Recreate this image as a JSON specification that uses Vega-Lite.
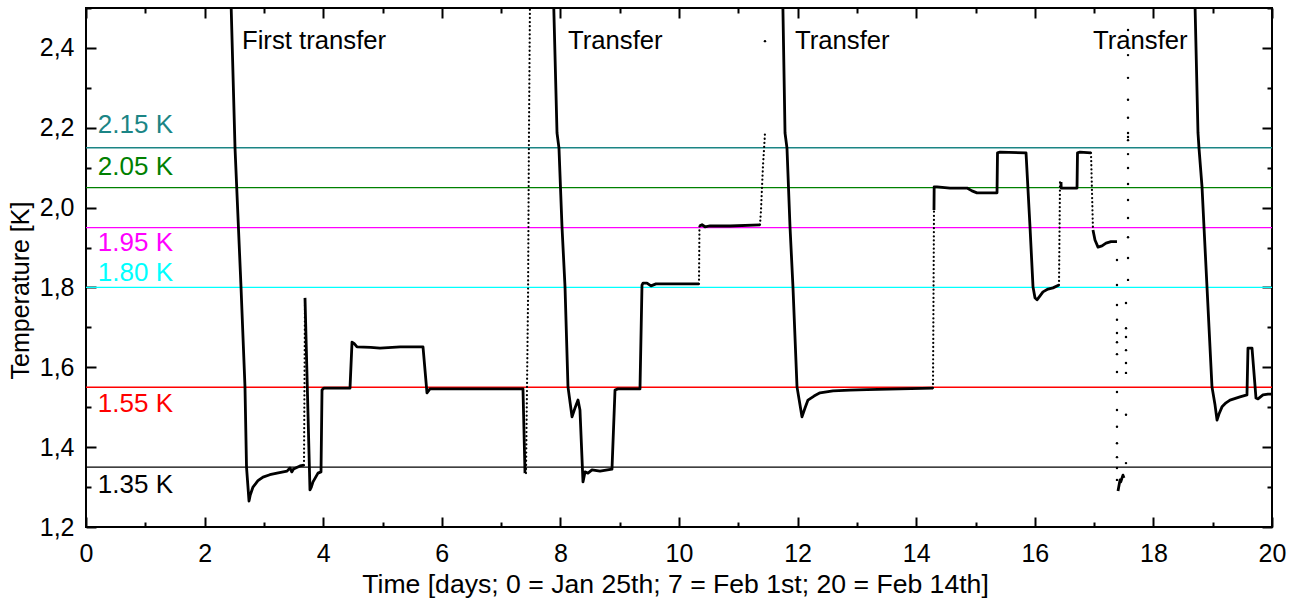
{
  "$schema": "https://vega.github.io/schema/vega-lite/v6.json",
  "width": 1186,
  "height": 519,
  "autosize": {"type": "none"},
  "padding": {"left": 86, "top": 8, "right": 32, "bottom": 74},
  "background": "white",
  "config": {
    "view": {"stroke": "black", "strokeWidth": 2},
    "axis": {"domain": false, "tickColor": "black", "tickWidth": 2, "labelColor": "black", "titleColor": "black", "labelFont": "Liberation Sans", "titleFont": "Liberation Sans", "titleFontWeight": "normal", "grid": false, "labelFlush": false, "labelOverlap": false},
    "text": {"font": "Liberation Sans"}
  },
  "datasets": {
    "refs": [
      {"name": "2.15 K", "v": 2.15, "ty": 2.207},
      {"name": "2.05 K", "v": 2.05, "ty": 2.102},
      {"name": "1.95 K", "v": 1.95, "ty": 1.911},
      {"name": "1.80 K", "v": 1.80, "ty": 1.836},
      {"name": "1.55 K", "v": 1.55, "ty": 1.508},
      {"name": "1.35 K", "v": 1.35, "ty": 1.305}
    ],
    "notes": [
      {"note": "First transfer", "t": 2.63, "T": 2.417},
      {"note": "Transfer", "t": 8.128, "T": 2.417},
      {"note": "Transfer", "t": 11.956, "T": 2.417},
      {"note": "Transfer", "t": 16.981, "T": 2.417}
    ],
    "solid": [
      {"s": "A", "t": 2.43, "T": 2.6}, {"s": "A", "t": 2.513, "T": 2.149}, {"s": "A", "t": 2.614, "T": 1.801}, {"s": "A", "t": 2.681, "T": 1.551}, {"s": "A", "t": 2.707, "T": 1.35}, {"s": "A", "t": 2.749, "T": 1.265}, {"s": "A", "t": 2.77, "T": 1.28}, {"s": "A", "t": 2.816, "T": 1.3}, {"s": "A", "t": 2.9, "T": 1.316}, {"s": "A", "t": 2.985, "T": 1.325}, {"s": "A", "t": 3.1, "T": 1.331}, {"s": "A", "t": 3.221, "T": 1.335}, {"s": "A", "t": 3.39, "T": 1.34}, {"s": "A", "t": 3.44, "T": 1.348}, {"s": "A", "t": 3.47, "T": 1.338}, {"s": "A", "t": 3.5, "T": 1.345}, {"s": "A", "t": 3.609, "T": 1.353}, {"s": "A", "t": 3.676, "T": 1.355},
      {"s": "B", "t": 3.693, "T": 1.774}, {"s": "B", "t": 3.777, "T": 1.293}, {"s": "B", "t": 3.8, "T": 1.3}, {"s": "B", "t": 3.828, "T": 1.313}, {"s": "B", "t": 3.912, "T": 1.335}, {"s": "B", "t": 3.963, "T": 1.338}, {"s": "B", "t": 3.98, "T": 1.543}, {"s": "B", "t": 4.013, "T": 1.548}, {"s": "B", "t": 4.452, "T": 1.548}, {"s": "B", "t": 4.486, "T": 1.663}, {"s": "B", "t": 4.52, "T": 1.66}, {"s": "B", "t": 4.57, "T": 1.651}, {"s": "B", "t": 4.8, "T": 1.65}, {"s": "B", "t": 4.958, "T": 1.648}, {"s": "B", "t": 5.3, "T": 1.651}, {"s": "B", "t": 5.683, "T": 1.651}, {"s": "B", "t": 5.75, "T": 1.536}, {"s": "B", "t": 5.8, "T": 1.546}, {"s": "B", "t": 6.644, "T": 1.546}, {"s": "B", "t": 7.369, "T": 1.546}, {"s": "B", "t": 7.403, "T": 1.335},
      {"s": "D", "t": 7.885, "T": 2.52}, {"s": "D", "t": 7.943, "T": 2.187}, {"s": "D", "t": 7.976, "T": 2.149}, {"s": "D", "t": 8.027, "T": 1.952}, {"s": "D", "t": 8.078, "T": 1.801}, {"s": "D", "t": 8.128, "T": 1.551}, {"s": "D", "t": 8.196, "T": 1.476}, {"s": "D", "t": 8.246, "T": 1.498}, {"s": "D", "t": 8.297, "T": 1.518}, {"s": "D", "t": 8.33, "T": 1.493}, {"s": "D", "t": 8.381, "T": 1.313}, {"s": "D", "t": 8.415, "T": 1.338}, {"s": "D", "t": 8.465, "T": 1.335}, {"s": "D", "t": 8.533, "T": 1.343}, {"s": "D", "t": 8.668, "T": 1.34}, {"s": "D", "t": 8.87, "T": 1.345}, {"s": "D", "t": 8.921, "T": 1.543}, {"s": "D", "t": 8.971, "T": 1.546}, {"s": "D", "t": 9.342, "T": 1.546}, {"s": "D", "t": 9.376, "T": 1.806}, {"s": "D", "t": 9.393, "T": 1.811}, {"s": "D", "t": 9.46, "T": 1.811}, {"s": "D", "t": 9.528, "T": 1.804}, {"s": "D", "t": 9.612, "T": 1.809}, {"s": "D", "t": 10.337, "T": 1.809},
      {"s": "F", "t": 10.345, "T": 1.954}, {"s": "F", "t": 10.388, "T": 1.957}, {"s": "F", "t": 10.438, "T": 1.952}, {"s": "F", "t": 10.523, "T": 1.954}, {"s": "F", "t": 10.86, "T": 1.954}, {"s": "F", "t": 11.366, "T": 1.957},
      {"s": "H", "t": 11.75, "T": 2.52}, {"s": "H", "t": 11.788, "T": 2.187}, {"s": "H", "t": 11.821, "T": 2.149}, {"s": "H", "t": 11.872, "T": 1.952}, {"s": "H", "t": 11.922, "T": 1.801}, {"s": "H", "t": 11.99, "T": 1.551}, {"s": "H", "t": 12.074, "T": 1.476}, {"s": "H", "t": 12.125, "T": 1.498}, {"s": "H", "t": 12.175, "T": 1.518}, {"s": "H", "t": 12.277, "T": 1.528}, {"s": "H", "t": 12.378, "T": 1.536}, {"s": "H", "t": 12.597, "T": 1.541}, {"s": "H", "t": 12.884, "T": 1.543}, {"s": "H", "t": 13.171, "T": 1.544}, {"s": "H", "t": 13.727, "T": 1.546}, {"s": "H", "t": 14.283, "T": 1.548},
      {"s": "J", "t": 14.3, "T": 1.994}, {"s": "J", "t": 14.303, "T": 2.052}, {"s": "J", "t": 14.351, "T": 2.052}, {"s": "J", "t": 14.57, "T": 2.049}, {"s": "J", "t": 14.857, "T": 2.049}, {"s": "J", "t": 14.941, "T": 2.042}, {"s": "J", "t": 15.025, "T": 2.037}, {"s": "J", "t": 15.363, "T": 2.037}, {"s": "J", "t": 15.371, "T": 2.137}, {"s": "J", "t": 15.413, "T": 2.139}, {"s": "J", "t": 15.852, "T": 2.137}, {"s": "J", "t": 15.919, "T": 1.952}, {"s": "J", "t": 15.97, "T": 1.801}, {"s": "J", "t": 16.003, "T": 1.774}, {"s": "J", "t": 16.037, "T": 1.769}, {"s": "J", "t": 16.088, "T": 1.779}, {"s": "J", "t": 16.138, "T": 1.789}, {"s": "J", "t": 16.223, "T": 1.796}, {"s": "J", "t": 16.307, "T": 1.799}, {"s": "J", "t": 16.408, "T": 1.806},
      {"s": "L", "t": 16.442, "T": 2.064}, {"s": "L", "t": 16.445, "T": 2.049}, {"s": "L", "t": 16.509, "T": 2.049}, {"s": "L", "t": 16.712, "T": 2.049}, {"s": "L", "t": 16.72, "T": 2.137}, {"s": "L", "t": 16.762, "T": 2.139}, {"s": "L", "t": 16.948, "T": 2.137},
      {"s": "N", "t": 16.981, "T": 1.944}, {"s": "N", "t": 17.015, "T": 1.919}, {"s": "N", "t": 17.066, "T": 1.901}, {"s": "N", "t": 17.133, "T": 1.904}, {"s": "N", "t": 17.201, "T": 1.911}, {"s": "N", "t": 17.285, "T": 1.915}, {"s": "N", "t": 17.386, "T": 1.915},
      {"s": "Q", "t": 17.403, "T": 1.29}, {"s": "Q", "t": 17.437, "T": 1.318}, {"s": "Q", "t": 17.45, "T": 1.313}, {"s": "Q", "t": 17.487, "T": 1.33}, {"s": "Q", "t": 17.504, "T": 1.323},
      {"s": "R", "t": 18.7, "T": 2.52}, {"s": "R", "t": 18.752, "T": 2.187}, {"s": "R", "t": 18.769, "T": 2.149}, {"s": "R", "t": 18.82, "T": 2.052}, {"s": "R", "t": 18.853, "T": 1.952}, {"s": "R", "t": 18.904, "T": 1.801}, {"s": "R", "t": 18.988, "T": 1.551}, {"s": "R", "t": 19.039, "T": 1.506}, {"s": "R", "t": 19.073, "T": 1.468}, {"s": "R", "t": 19.106, "T": 1.483}, {"s": "R", "t": 19.157, "T": 1.501}, {"s": "R", "t": 19.224, "T": 1.511}, {"s": "R", "t": 19.292, "T": 1.518}, {"s": "R", "t": 19.46, "T": 1.526}, {"s": "R", "t": 19.578, "T": 1.531}, {"s": "R", "t": 19.595, "T": 1.648}, {"s": "R", "t": 19.663, "T": 1.648}, {"s": "R", "t": 19.73, "T": 1.523}, {"s": "R", "t": 19.764, "T": 1.521}, {"s": "R", "t": 19.848, "T": 1.531}, {"s": "R", "t": 19.933, "T": 1.533}, {"s": "R", "t": 20.0, "T": 1.533}
    ],
    "dotted": [
      {"s": "a", "t": 3.676, "T": 1.355}, {"s": "a", "t": 3.693, "T": 1.774},
      {"s": "C", "t": 7.42, "T": 1.335}, {"s": "C", "t": 7.454, "T": 1.769}, {"s": "C", "t": 7.47, "T": 2.187}, {"s": "C", "t": 7.487, "T": 2.52},
      {"s": "E", "t": 10.337, "T": 1.809}, {"s": "E", "t": 10.345, "T": 1.954},
      {"s": "G", "t": 11.366, "T": 1.957}, {"s": "G", "t": 11.383, "T": 1.994}, {"s": "G", "t": 11.4, "T": 2.052}, {"s": "G", "t": 11.417, "T": 2.107}, {"s": "G", "t": 11.433, "T": 2.144}, {"s": "G", "t": 11.45, "T": 2.187},
      {"s": "I", "t": 14.283, "T": 1.548}, {"s": "I", "t": 14.3, "T": 1.994},
      {"s": "K", "t": 16.408, "T": 1.806}, {"s": "K", "t": 16.425, "T": 2.064},
      {"s": "M", "t": 16.948, "T": 2.137}, {"s": "M", "t": 16.981, "T": 1.944}
    ],
    "dots": [
      {"t": 11.45, "T": 2.417},
      {"t": 17.386, "T": 1.869}, {"t": 17.386, "T": 1.806}, {"t": 17.386, "T": 1.756}, {"t": 17.386, "T": 1.719}, {"t": 17.386, "T": 1.686}, {"t": 17.386, "T": 1.663}, {"t": 17.386, "T": 1.633}, {"t": 17.386, "T": 1.588}, {"t": 17.386, "T": 1.538}, {"t": 17.386, "T": 1.493}, {"t": 17.386, "T": 1.451}, {"t": 17.386, "T": 1.41}, {"t": 17.386, "T": 1.375}, {"t": 17.386, "T": 1.348}, {"t": 17.386, "T": 1.318},
      {"t": 17.572, "T": 2.445}, {"t": 17.572, "T": 2.382}, {"t": 17.572, "T": 2.325}, {"t": 17.572, "T": 2.27}, {"t": 17.572, "T": 2.225}, {"t": 17.572, "T": 2.187}, {"t": 17.572, "T": 2.177}, {"t": 17.572, "T": 2.169}, {"t": 17.572, "T": 2.134}, {"t": 17.572, "T": 2.099}, {"t": 17.572, "T": 2.059}, {"t": 17.572, "T": 2.019}, {"t": 17.572, "T": 1.974}, {"t": 17.572, "T": 1.926}, {"t": 17.572, "T": 1.874}, {"t": 17.572, "T": 1.819},
      {"t": 17.538, "T": 1.761}, {"t": 17.538, "T": 1.698}, {"t": 17.538, "T": 1.676}, {"t": 17.538, "T": 1.643}, {"t": 17.538, "T": 1.611}, {"t": 17.538, "T": 1.586}, {"t": 17.538, "T": 1.481}, {"t": 17.538, "T": 1.36}
    ]
  },
  "resolve": {"axis": {"x": "independent", "y": "independent"}},
  "layer": [
    {
      "data": {"name": "refs"},
      "mark": {"type": "rule", "strokeWidth": 1.3},
      "encoding": {
        "y": {"field": "v", "type": "quantitative", "scale": {"domain": [1.2, 2.5], "nice": false, "zero": false}, "axis": null},
        "color": {"field": "name", "type": "nominal", "scale": {"domain": ["2.15 K", "2.05 K", "1.95 K", "1.80 K", "1.55 K", "1.35 K"], "range": ["#1b8585", "#008000", "#ff00ff", "#00ffff", "#ff0000", "#000000"]}, "legend": null}
      }
    },
    {
      "data": {"name": "refs"},
      "mark": {"type": "text", "align": "left", "baseline": "middle", "fontSize": 26},
      "encoding": {
        "x": {"datum": 0.2, "type": "quantitative", "scale": {"domain": [0, 20], "nice": false, "zero": false}, "axis": null},
        "y": {"field": "ty", "type": "quantitative", "axis": null},
        "text": {"field": "name"},
        "color": {"field": "name", "type": "nominal", "legend": null}
      }
    },
    {
      "data": {"name": "solid"},
      "mark": {"type": "line", "color": "black", "strokeWidth": 2.8, "strokeJoin": "round", "clip": true},
      "encoding": {
        "x": {"field": "t", "type": "quantitative", "scale": {"domain": [0, 20], "nice": false, "zero": false},
          "axis": {"orient": "bottom", "values": [0,2,4,6,8,10,12,14,16,18,20],
            "offset": -10, "tickSize": 10,
            "labelFontSize": 25, "labelPadding": 14,
            "title": "Time [days; 0 = Jan 25th; 7 = Feb 1st; 20 = Feb 14th]", "titleFontSize": 26.6, "titleX": 589, "titleY": 54, "titleBaseline": "top"}},
        "y": {"field": "T", "type": "quantitative", "scale": {"domain": [1.2, 2.5], "nice": false, "zero": false},
          "axis": {"orient": "left", "values": [1.2,1.4,1.6,1.8,2.0,2.2,2.4],
            "labelExpr": "replace(format(datum.value, '.1f'), '.', ',')",
            "offset": -10, "tickSize": 10,
            "labelFontSize": 25, "labelPadding": 12,
            "title": "Temperature [K]", "titleFontSize": 25, "titleX": -76, "titleY": 282, "titleBaseline": "middle", "titleAngle": -90}},
        "detail": {"field": "s", "type": "nominal"}
      }
    },
    {
      "data": {"name": "dotted"},
      "mark": {"type": "line", "color": "black", "strokeWidth": 2.2, "strokeDash": [0.1, 4], "strokeCap": "round", "clip": true},
      "encoding": {
        "x": {"field": "t", "type": "quantitative",
          "axis": {"orient": "top", "values": [0,2,4,6,8,10,12,14,16,18,20], "labels": false, "title": null, "offset": -10, "tickSize": 10}},
        "y": {"field": "T", "type": "quantitative",
          "axis": {"orient": "right", "values": [1.2,1.4,1.6,1.8,2.0,2.2,2.4], "labels": false, "title": null, "offset": -10, "tickSize": 10}},
        "detail": {"field": "s", "type": "nominal"}
      }
    },
    {
      "data": {"name": "dots"},
      "mark": {"type": "circle", "color": "black", "size": 6, "opacity": 1, "clip": true},
      "encoding": {
        "x": {"field": "t", "type": "quantitative",
          "axis": {"orient": "bottom", "values": [1,3,5,7,9,11,13,15,17,19], "labels": false, "title": null, "offset": -5, "tickSize": 5}},
        "y": {"field": "T", "type": "quantitative",
          "axis": {"orient": "left", "values": [1.3,1.5,1.7,1.9,2.1,2.3,2.5], "labels": false, "title": null, "offset": -5, "tickSize": 5}}
      }
    },
    {
      "data": {"name": "notes"},
      "mark": {"type": "text", "align": "left", "baseline": "middle", "fontSize": 25.7, "color": "black"},
      "encoding": {
        "x": {"field": "t", "type": "quantitative",
          "axis": {"orient": "top", "values": [1,3,5,7,9,11,13,15,17,19], "labels": false, "title": null, "offset": -5, "tickSize": 5}},
        "y": {"field": "T", "type": "quantitative",
          "axis": {"orient": "right", "values": [1.3,1.5,1.7,1.9,2.1,2.3,2.5], "labels": false, "title": null, "offset": -5, "tickSize": 5}},
        "text": {"field": "note"}
      }
    }
  ]
}
